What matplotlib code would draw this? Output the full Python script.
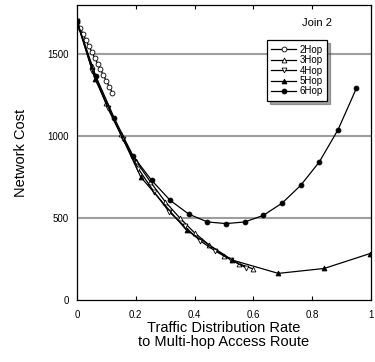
import matplotlib
matplotlib.use("Agg")
import matplotlib.pyplot as plt

plt.rcParams['font.family'] = ['Liberation Sans', 'DejaVu Sans']

# 2Hop
x_2hop = [0, 0.01, 0.02, 0.03, 0.04, 0.05, 0.06, 0.07, 0.08, 0.09, 0.10, 0.11, 0.12]
y_2hop = [1700, 1662, 1625, 1588, 1551, 1515, 1479, 1443, 1407, 1371, 1336, 1301, 1266]

# 3Hop
x_3hop = [0, 0.05, 0.10, 0.15, 0.20, 0.25, 0.30, 0.35, 0.40, 0.45, 0.50, 0.55, 0.60]
y_3hop = [1700, 1430, 1200, 1010, 850, 720, 600, 500, 410, 335, 270, 222, 188]

# 4Hop
x_4hop = [0, 0.052, 0.105, 0.157, 0.209, 0.262, 0.314, 0.366, 0.418, 0.471, 0.523, 0.575]
y_4hop = [1700, 1400, 1170, 980, 800, 660, 537, 450, 362, 298, 245, 196]

# 5Hop
x_5hop = [0, 0.061, 0.217, 0.373, 0.529, 0.685, 0.841, 0.997]
y_5hop = [1700, 1350, 750, 425, 243, 162, 192, 283]

# 6Hop
x_6hop = [0, 0.063, 0.127, 0.19, 0.254, 0.317, 0.381, 0.444, 0.507, 0.571,
          0.634, 0.698, 0.761, 0.824, 0.888, 0.951]
y_6hop = [1700, 1370, 1110, 880, 730, 608, 523, 476, 466, 476,
          516, 591, 699, 841, 1038, 1293]

fig = plt.figure(figsize=(3.75, 3.62), dpi=100)
ax = fig.add_axes([0.2053, 0.1715, 0.7837, 0.8145])

# grey reference lines
for yv in [500, 1000, 1500]:
    ax.axhline(yv, color='0.62', lw=1.5, zorder=1)

ms = 3.5
ax.plot(x_2hop, y_2hop, '-o', color='black', lw=0.9, ms=ms, mfc='white', mew=0.6, label='2Hop', zorder=3)
ax.plot(x_3hop, y_3hop, '-^', color='black', lw=0.9, ms=ms, mfc='white', mew=0.6, label='3Hop', zorder=3)
ax.plot(x_4hop, y_4hop, '-v', color='black', lw=0.9, ms=ms, mfc='white', mew=0.6, label='4Hop', zorder=3)
ax.plot(x_5hop, y_5hop, '-^', color='black', lw=0.9, ms=ms, mfc='black', mew=0.6, label='5Hop', zorder=3)
ax.plot(x_6hop, y_6hop, '-o', color='black', lw=0.9, ms=ms, mfc='black', mew=0.6, label='6Hop', zorder=3)

ax.set_xlim(0, 1)
ax.set_ylim(0, 1800)
ax.set_xticks([0, 0.2, 0.4, 0.6, 0.8, 1])
ax.set_xticklabels(['0', '0.2', '0.4', '0.6', '0.8', '1'])
ax.set_yticks([0, 500, 1000, 1500])
ax.tick_params(axis='x', direction='in', top=True, length=3, width=0.8, labelsize=7, pad=7)
ax.tick_params(axis='y', length=0, labelsize=7, pad=6)
for s in ax.spines.values():
    s.set_linewidth(0.9)

ax.set_xlabel('Traffic Distribution Rate\nto Multi-hop Access Route', fontsize=10.5, linespacing=1.0, labelpad=1)
ax.set_ylabel('Network Cost', fontsize=10.5, labelpad=14)

ax.text(0.815, 0.94, 'Join 2', transform=ax.transAxes, ha='center', va='center', fontsize=8)

leg = ax.legend(loc='upper left', bbox_to_anchor=(0.646, 0.881), fontsize=7, frameon=True,
                fancybox=False, shadow=True, edgecolor='black', framealpha=1,
                handlelength=2.6, handletextpad=0.3, labelspacing=0.05, borderpad=0.45,
                borderaxespad=0)
leg.get_frame().set_linewidth(0.9)

fig.savefig('out.png', dpi=100)
